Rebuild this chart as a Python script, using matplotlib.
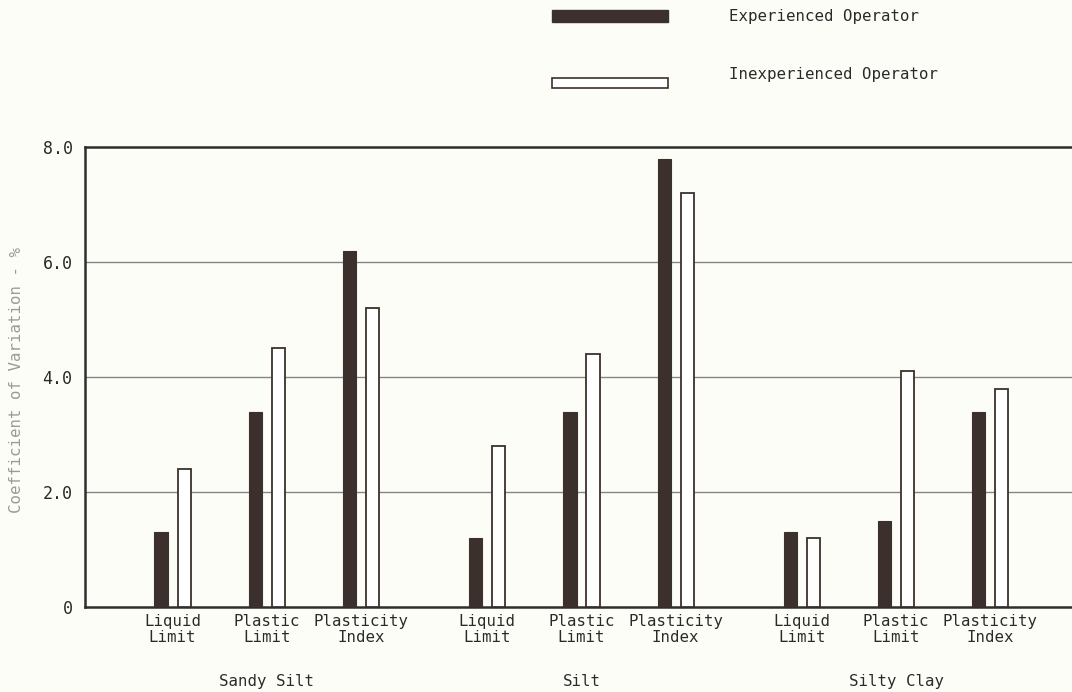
import matplotlib.pyplot as plt
from matplotlib.patches import Rectangle
import numpy as np

# coefficient of variation (%) per soil and test
soils = ['Sandy Silt', 'Silt', 'Silty Clay']
tests = ['Liquid\nLimit', 'Plastic\nLimit', 'Plasticity\nIndex']
experienced = [1.3, 3.4, 6.2, 1.2, 3.4, 7.8, 1.3, 1.5, 3.4]
inexperienced = [2.4, 4.5, 5.2, 2.8, 4.4, 7.2, 1.2, 4.1, 3.8]
yticks = [0, 2, 4, 6, 8]
ytick_labels = ['0', '2.0', '4.0', '6.0', '8.0']

dark = '#3b302c'
paper = '#fdfdf8'
ink = '#2a2a2a'
font = 'DejaVu Sans Mono'
fs = 11.3

group_step = 3.34
pos = np.array([g * group_step + i for g in range(len(soils)) for i in range(len(tests))])
w = 0.14
off = 0.1225

fig = plt.figure(figsize=(10.72, 6.92), dpi=100, facecolor=paper)
ax = fig.add_axes([85 / 1072, 85 / 692, 1 - 85 / 1072 + 0.002, 460 / 692])
ax.set_facecolor(paper)

for y in yticks[1:-1]:
    ax.axhline(y, color='#858585', lw=1.0, zorder=1)

ax.bar(pos - off, experienced, width=w, color=dark, edgecolor=dark, lw=0.8, zorder=3)
ax.bar(pos + off, inexperienced, width=w, color='white', edgecolor=dark, lw=1.3, zorder=3)

ax.set_xlim(-0.93, 9.57)
ax.set_ylim(0, 8)
ax.set_yticks(yticks)
ax.set_yticklabels(ytick_labels, fontfamily=font, fontsize=12, color=ink)
ax.set_xticks(pos)
ax.set_xticklabels(tests * len(soils), fontfamily=font, fontsize=fs,
                   color=ink, linespacing=1.05)
ax.tick_params(axis='both', length=0)
ax.tick_params(axis='y', pad=9)
ax.tick_params(axis='x', pad=5)

for side in ['left', 'bottom', 'top']:
    ax.spines[side].set_color('#2e2e2e')
    ax.spines[side].set_linewidth(1.8)
ax.spines['right'].set_visible(False)

# soil names under each group of three tests
for g, soil in enumerate(soils):
    ax.text(g * group_step + 1, -0.145, soil, transform=ax.get_xaxis_transform(),
            ha='center', va='top', fontfamily=font, fontsize=fs, color=ink)

fig.text(17 / 1072, 1 - 380 / 692, 'Coefficient of Variation - %', rotation=90,
         ha='center', va='center', fontfamily=font, fontsize=fs, color='#9a9a9a')

# legend drawn as keyed swatches at the top
fig.patches.append(Rectangle((552 / 1072, 1 - 22 / 692), 116 / 1072, 12 / 692,
                             transform=fig.transFigure, facecolor=dark, edgecolor=dark))
fig.patches.append(Rectangle((552 / 1072, 1 - 88 / 692), 116 / 1072, 10 / 692,
                             transform=fig.transFigure, facecolor='white',
                             edgecolor=dark, lw=1.2))
fig.text(729 / 1072, 1 - 16 / 692, 'Experienced Operator', ha='left', va='center',
         fontfamily=font, fontsize=fs, color=ink)
fig.text(729 / 1072, 1 - 74 / 692, 'Inexperienced Operator', ha='left', va='center',
         fontfamily=font, fontsize=fs, color=ink)

fig.savefig('out.png', dpi=100, facecolor=paper)
